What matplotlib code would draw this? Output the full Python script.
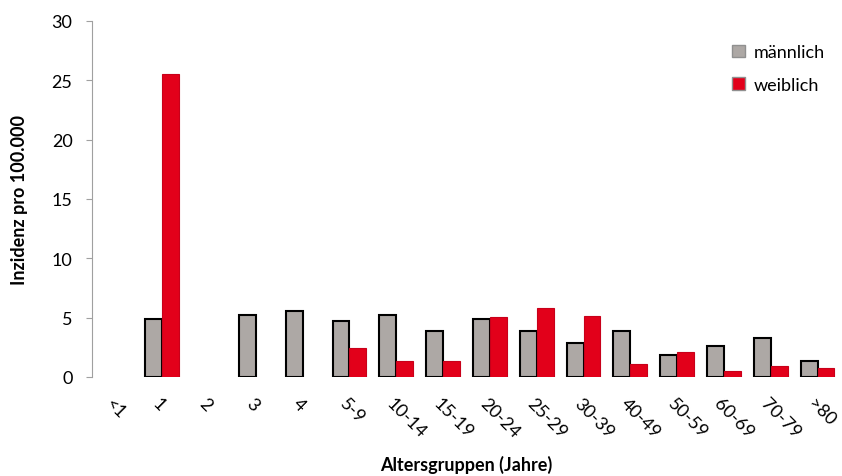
import matplotlib
matplotlib.use("Agg")
import matplotlib.pyplot as plt
import matplotlib.transforms as mtrans
import numpy as np

# Inzidenz pro 100.000 nach Altersgruppe
gruppen = ["<1", "1", "2", "3", "4", "5-9", "10-14", "15-19", "20-24", "25-29",
           "30-39", "40-49", "50-59", "60-69", "70-79", ">80"]
maennlich = [0, 4.9, 0, 5.2, 5.55, 4.7, 5.2, 3.9, 4.9, 3.9, 2.85, 3.9, 1.85, 2.6, 3.3, 1.35]
weiblich = [0, 25.5, 0, 0, 0, 2.45, 1.35, 1.35, 5.05, 5.8, 5.15, 1.1, 2.1, 0.5, 0.95, 0.75]

plt.rcParams['font.family'] = ['Lato', 'DejaVu Sans']

fig = plt.figure(figsize=(8.42, 4.77), dpi=100)
ax = fig.add_axes([92 / 842, 1 - 378 / 477, 749 / 842, 356 / 477])

x = np.arange(len(gruppen))
w = 0.36
m = [v if v > 0 else np.nan for v in maennlich]
f = [v if v > 0 else np.nan for v in weiblich]
ax.bar(x - w / 2, m, w, color="#ADA8A5", edgecolor="black", linewidth=1.5, label="männlich")
ax.bar(x + w / 2, f, w, color="#E2001A", edgecolor="#C8001A", linewidth=0.8, label="weiblich")

ax.set_xlim(-0.5, len(gruppen) - 0.5)
ax.set_ylim(0, 30)
ax.set_yticks(range(0, 31, 5))
ax.tick_params(axis="y", labelsize=13, length=4, color="#A0A0A0", direction="out", pad=10)
for s in ["top", "right", "bottom"]:
    ax.spines[s].set_visible(False)
ax.spines["left"].set_color("#A0A0A0")

ax.set_xticks(x)
ax.set_xticklabels(gruppen, rotation=-45, ha="left", va="center", rotation_mode="anchor", fontsize=13)
ax.tick_params(axis="x", length=0, pad=17)
shift = mtrans.ScaledTranslation(-7 / 100, 0, fig.dpi_scale_trans)
for lbl in ax.get_xticklabels():
    lbl.set_transform(lbl.get_transform() + shift)

ax.set_ylabel("Inzidenz pro 100.000", fontsize=13, fontweight="bold", labelpad=17)
ax.set_xlabel("Altersgruppen (Jahre)", fontsize=13, fontweight="bold", labelpad=10)

leg = ax.legend(loc="upper right", bbox_to_anchor=(1.0, 0.98), frameon=False, fontsize=13,
                handlelength=0.7, handleheight=0.7, handletextpad=0.5, labelspacing=0.9)
for h in leg.legend_handles:
    h.set_edgecolor("#909090")
    h.set_linewidth(1.0)

fig.savefig("out.png", dpi=100)
